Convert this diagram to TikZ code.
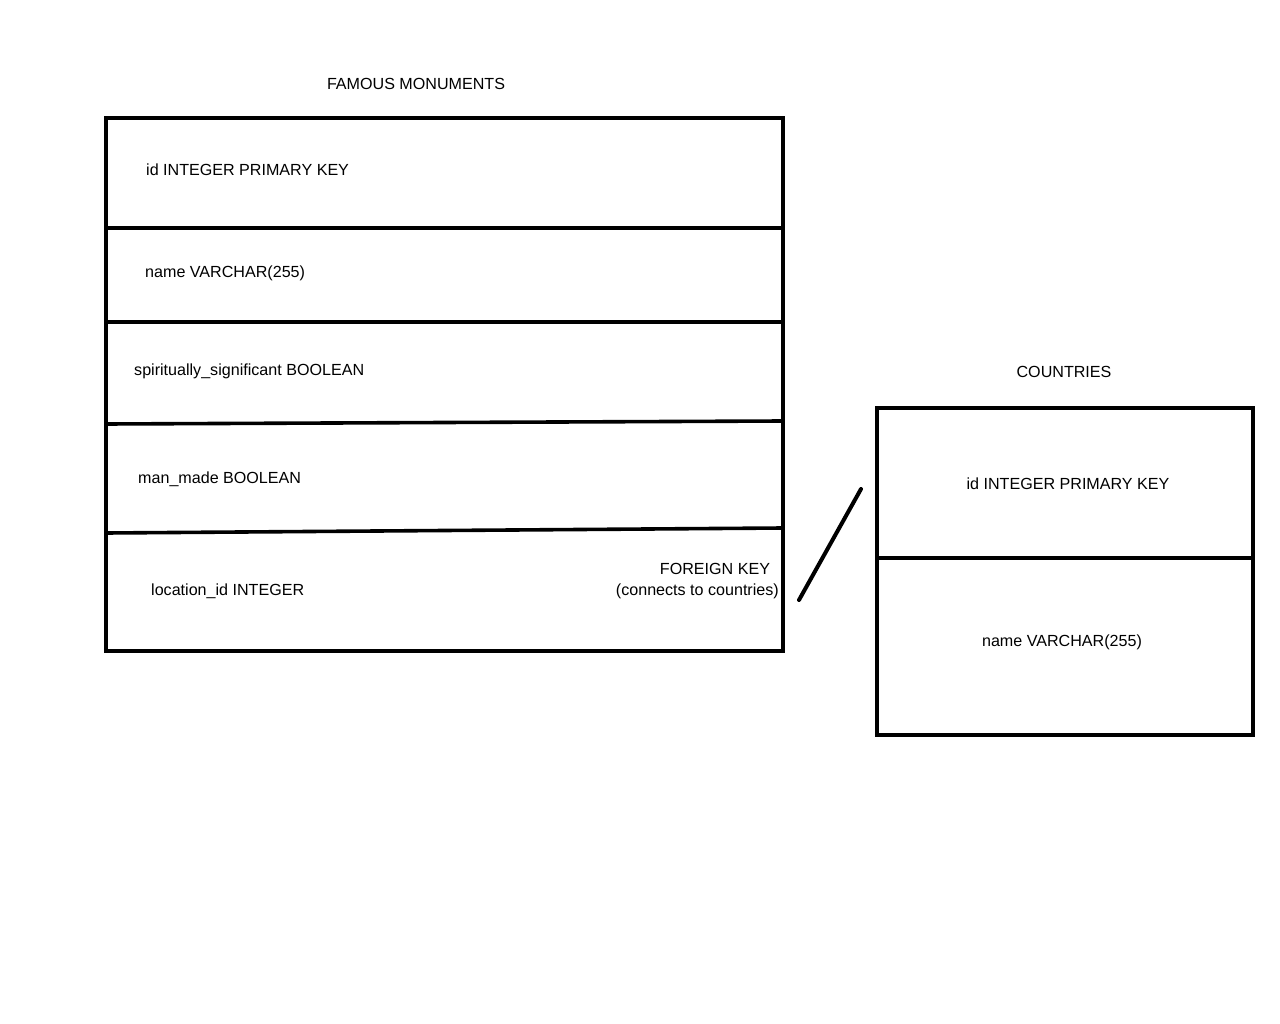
\documentclass[tikz,border=0pt]{standalone}
\usepackage{fontspec}
\setmainfont{Liberation Sans}
\begin{document}
\begin{tikzpicture}[x=1pt,y=-1pt,
  txt/.style={inner sep=0pt,font=\fontsize{16.1}{19}\selectfont},
  frame/.style={line width=3.6pt,line cap=rect},
  link/.style={line width=4pt,line cap=round}]
\useasboundingbox[fill=white] (0,0) rectangle (1280,1024);
% famous monuments table
\node[txt] (t1) at (416,83.5) {FAMOUS MONUMENTS};
\draw[frame] (106,118) rectangle (783,651);
\draw[frame] (106,228) -- (783,228);
\draw[frame] (106,322) -- (783,322);
\draw[frame] (106,424) -- (783,421);
\draw[frame] (106,533) -- (783,528);
\node[txt,anchor=west] (m1) at (146,169.5) {id INTEGER PRIMARY KEY};
\node[txt,anchor=west] (m2) at (145,273.5) {name VARCHAR(255)};
\node[txt,anchor=west] (m3) at (134,371.5) {spiritually\_significant BOOLEAN};
\node[txt,anchor=west] (m4) at (138,479.5) {man\_made BOOLEAN};
\node[txt,anchor=west] (m5) at (151,591.5) {location\_id INTEGER};
\node[txt] (fk) at (715,568.5) {FOREIGN KEY};
\node[txt,anchor=east] (fk2) at (779,591.5) {(connects to countries)};
% countries table
\node[txt] (t2) at (1064,371.5) {COUNTRIES};
\draw[frame] (877,408) rectangle (1253,735);
\draw[frame] (877,558) -- (1253,558);
\node[txt] (c1) at (1068,483.5) {id INTEGER PRIMARY KEY};
\node[txt] (c2) at (1062,642.5) {name VARCHAR(255)};
% connector
\coordinate (la) at (799,600);
\coordinate (lb) at (861,489);
\draw[link] (la) -- (lb);
\end{tikzpicture}
\end{document}
